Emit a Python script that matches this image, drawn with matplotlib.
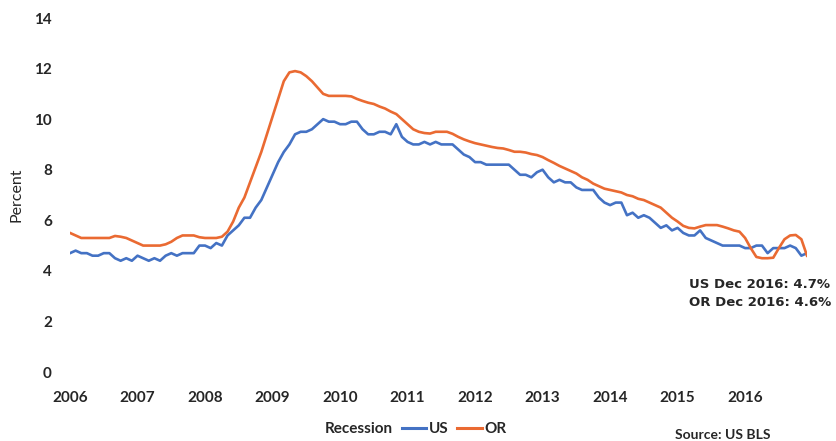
import matplotlib
matplotlib.use("Agg")
import matplotlib.pyplot as plt
from matplotlib.patches import Patch
from matplotlib.lines import Line2D

plt.rcParams['font.family'] = ['Lato', 'DejaVu Sans']

# Monthly unemployment rate, Jan 2006 - Dec 2016 (percent)
us_rate = [
    4.7, 4.8, 4.7, 4.7, 4.6, 4.6, 4.7, 4.7, 4.5, 4.4, 4.5, 4.4,   # 2006
    4.6, 4.5, 4.4, 4.5, 4.4, 4.6, 4.7, 4.6, 4.7, 4.7, 4.7, 5.0,   # 2007
    5.0, 4.9, 5.1, 5.0, 5.4, 5.6, 5.8, 6.1, 6.1, 6.5, 6.8, 7.3,   # 2008
    7.8, 8.3, 8.7, 9.0, 9.4, 9.5, 9.5, 9.6, 9.8, 10.0, 9.9, 9.9,  # 2009
    9.8, 9.8, 9.9, 9.9, 9.6, 9.4, 9.4, 9.5, 9.5, 9.4, 9.8, 9.3,   # 2010
    9.1, 9.0, 9.0, 9.1, 9.0, 9.1, 9.0, 9.0, 9.0, 8.8, 8.6, 8.5,   # 2011
    8.3, 8.3, 8.2, 8.2, 8.2, 8.2, 8.2, 8.0, 7.8, 7.8, 7.7, 7.9,   # 2012
    8.0, 7.7, 7.5, 7.6, 7.5, 7.5, 7.3, 7.2, 7.2, 7.2, 6.9, 6.7,   # 2013
    6.6, 6.7, 6.7, 6.2, 6.3, 6.1, 6.2, 6.1, 5.9, 5.7, 5.8, 5.6,   # 2014
    5.7, 5.5, 5.4, 5.4, 5.6, 5.3, 5.2, 5.1, 5.0, 5.0, 5.0, 5.0,   # 2015
    4.9, 4.9, 5.0, 5.0, 4.7, 4.9, 4.9, 4.9, 5.0, 4.9, 4.6, 4.7,   # 2016
]

or_rate = [
    5.5, 5.4, 5.3, 5.3, 5.3, 5.3, 5.3, 5.3, 5.38, 5.35, 5.3, 5.2,        # 2006
    5.1, 5.0, 5.0, 5.0, 5.0, 5.05, 5.15, 5.3, 5.4, 5.4, 5.4, 5.33,       # 2007
    5.3, 5.3, 5.3, 5.35, 5.55, 5.95, 6.5, 6.9, 7.5, 8.1, 8.7, 9.4,       # 2008
    10.1, 10.8, 11.5, 11.85, 11.9, 11.85, 11.7, 11.5, 11.25, 11.0, 10.92, 10.92,  # 2009
    10.92, 10.92, 10.9, 10.8, 10.72, 10.65, 10.6, 10.5, 10.42, 10.3, 10.2, 10.0,  # 2010
    9.8, 9.6, 9.5, 9.45, 9.43, 9.5, 9.5, 9.5, 9.42, 9.3, 9.2, 9.12,      # 2011
    9.05, 9.0, 8.95, 8.9, 8.86, 8.84, 8.78, 8.71, 8.71, 8.68, 8.62, 8.58,  # 2012
    8.5, 8.38, 8.27, 8.15, 8.05, 7.95, 7.85, 7.7, 7.6, 7.45, 7.35, 7.25,  # 2013
    7.2, 7.15, 7.1, 7.0, 6.95, 6.85, 6.8, 6.7, 6.6, 6.5, 6.3, 6.1,       # 2014
    5.95, 5.78, 5.7, 5.68, 5.75, 5.81, 5.81, 5.81, 5.75, 5.68, 5.6, 5.55,  # 2015
    5.3, 4.9, 4.55, 4.5, 4.5, 4.52, 4.9, 5.25, 5.4, 5.42, 5.25, 4.6,     # 2016
]

year_labels = ['2006', '2007', '2008', '2009', '2010', '2011',
               '2012', '2013', '2014', '2015', '2016']
y_ticks = [0, 2, 4, 6, 8, 10, 12, 14]

US_COLOR = '#4472C4'
OR_COLOR = '#EA6A32'
TEXT_COLOR = '#262626'

W, H = 836, 441
fig = plt.figure(figsize=(W / 100, H / 100), dpi=100)
ax = fig.add_axes([70 / W, 1 - 372 / H, (807 - 70) / W, (372 - 18) / H])

months = list(range(len(us_rate)))
ax.plot(months, us_rate, color=US_COLOR, lw=1.9, solid_joinstyle='round')
ax.plot(months, or_rate, color=OR_COLOR, lw=1.9, solid_joinstyle='round')

ax.set_xlim(0, len(us_rate) - 1)
ax.set_ylim(0, 14)
ax.set_xticks([12 * i for i in range(len(year_labels))])
ax.set_xticklabels(year_labels)
ax.set_yticks(y_ticks)
ax.set_yticklabels([str(v) for v in y_ticks])
ax.tick_params(axis='both', length=0, labelsize=11, colors=TEXT_COLOR)
ax.tick_params(axis='y', pad=13)
ax.tick_params(axis='x', pad=14)
for lab in ax.get_xticklabels() + ax.get_yticklabels():
    lab.set_fontweight('bold')
for sp in ax.spines.values():
    sp.set_visible(False)

fig.text(17 / W, 1 - 195 / H, 'Percent', rotation=90, ha='center', va='center',
         fontsize=11.5, color=TEXT_COLOR)

# End-of-period annotation
ann_font = dict(fontsize=9.5, fontweight='bold', color=TEXT_COLOR,
                family=['DejaVu Sans'])
fig.text(689 / W, 1 - 285 / H, f'US Dec 2016: {us_rate[-1]}%', ha='left', va='center',
         **ann_font)
fig.text(689 / W, 1 - 302 / H, f'OR Dec 2016: {or_rate[-1]}%', ha='left', va='center',
         **ann_font)

handles = [
    Patch(facecolor='white', edgecolor='none', label='Recession'),
    Line2D([], [], color=US_COLOR, lw=2.2, label='US'),
    Line2D([], [], color=OR_COLOR, lw=2.2, label='OR'),
]
leg = fig.legend(handles=handles, loc='center', bbox_to_anchor=(402 / W, 1 - 429 / H),
                 ncol=3, frameon=False, handlelength=1.6, handletextpad=0.15,
                 columnspacing=0.6, prop={'size': 11, 'weight': 'bold'})
for t in leg.get_texts():
    t.set_color(TEXT_COLOR)

fig.text(675 / W, 1 - 429 / H, 'Source: US BLS', ha='left', va='top',
         fontsize=10, fontweight='bold', color=TEXT_COLOR)

fig.savefig('out.png', dpi=100, facecolor='white')
